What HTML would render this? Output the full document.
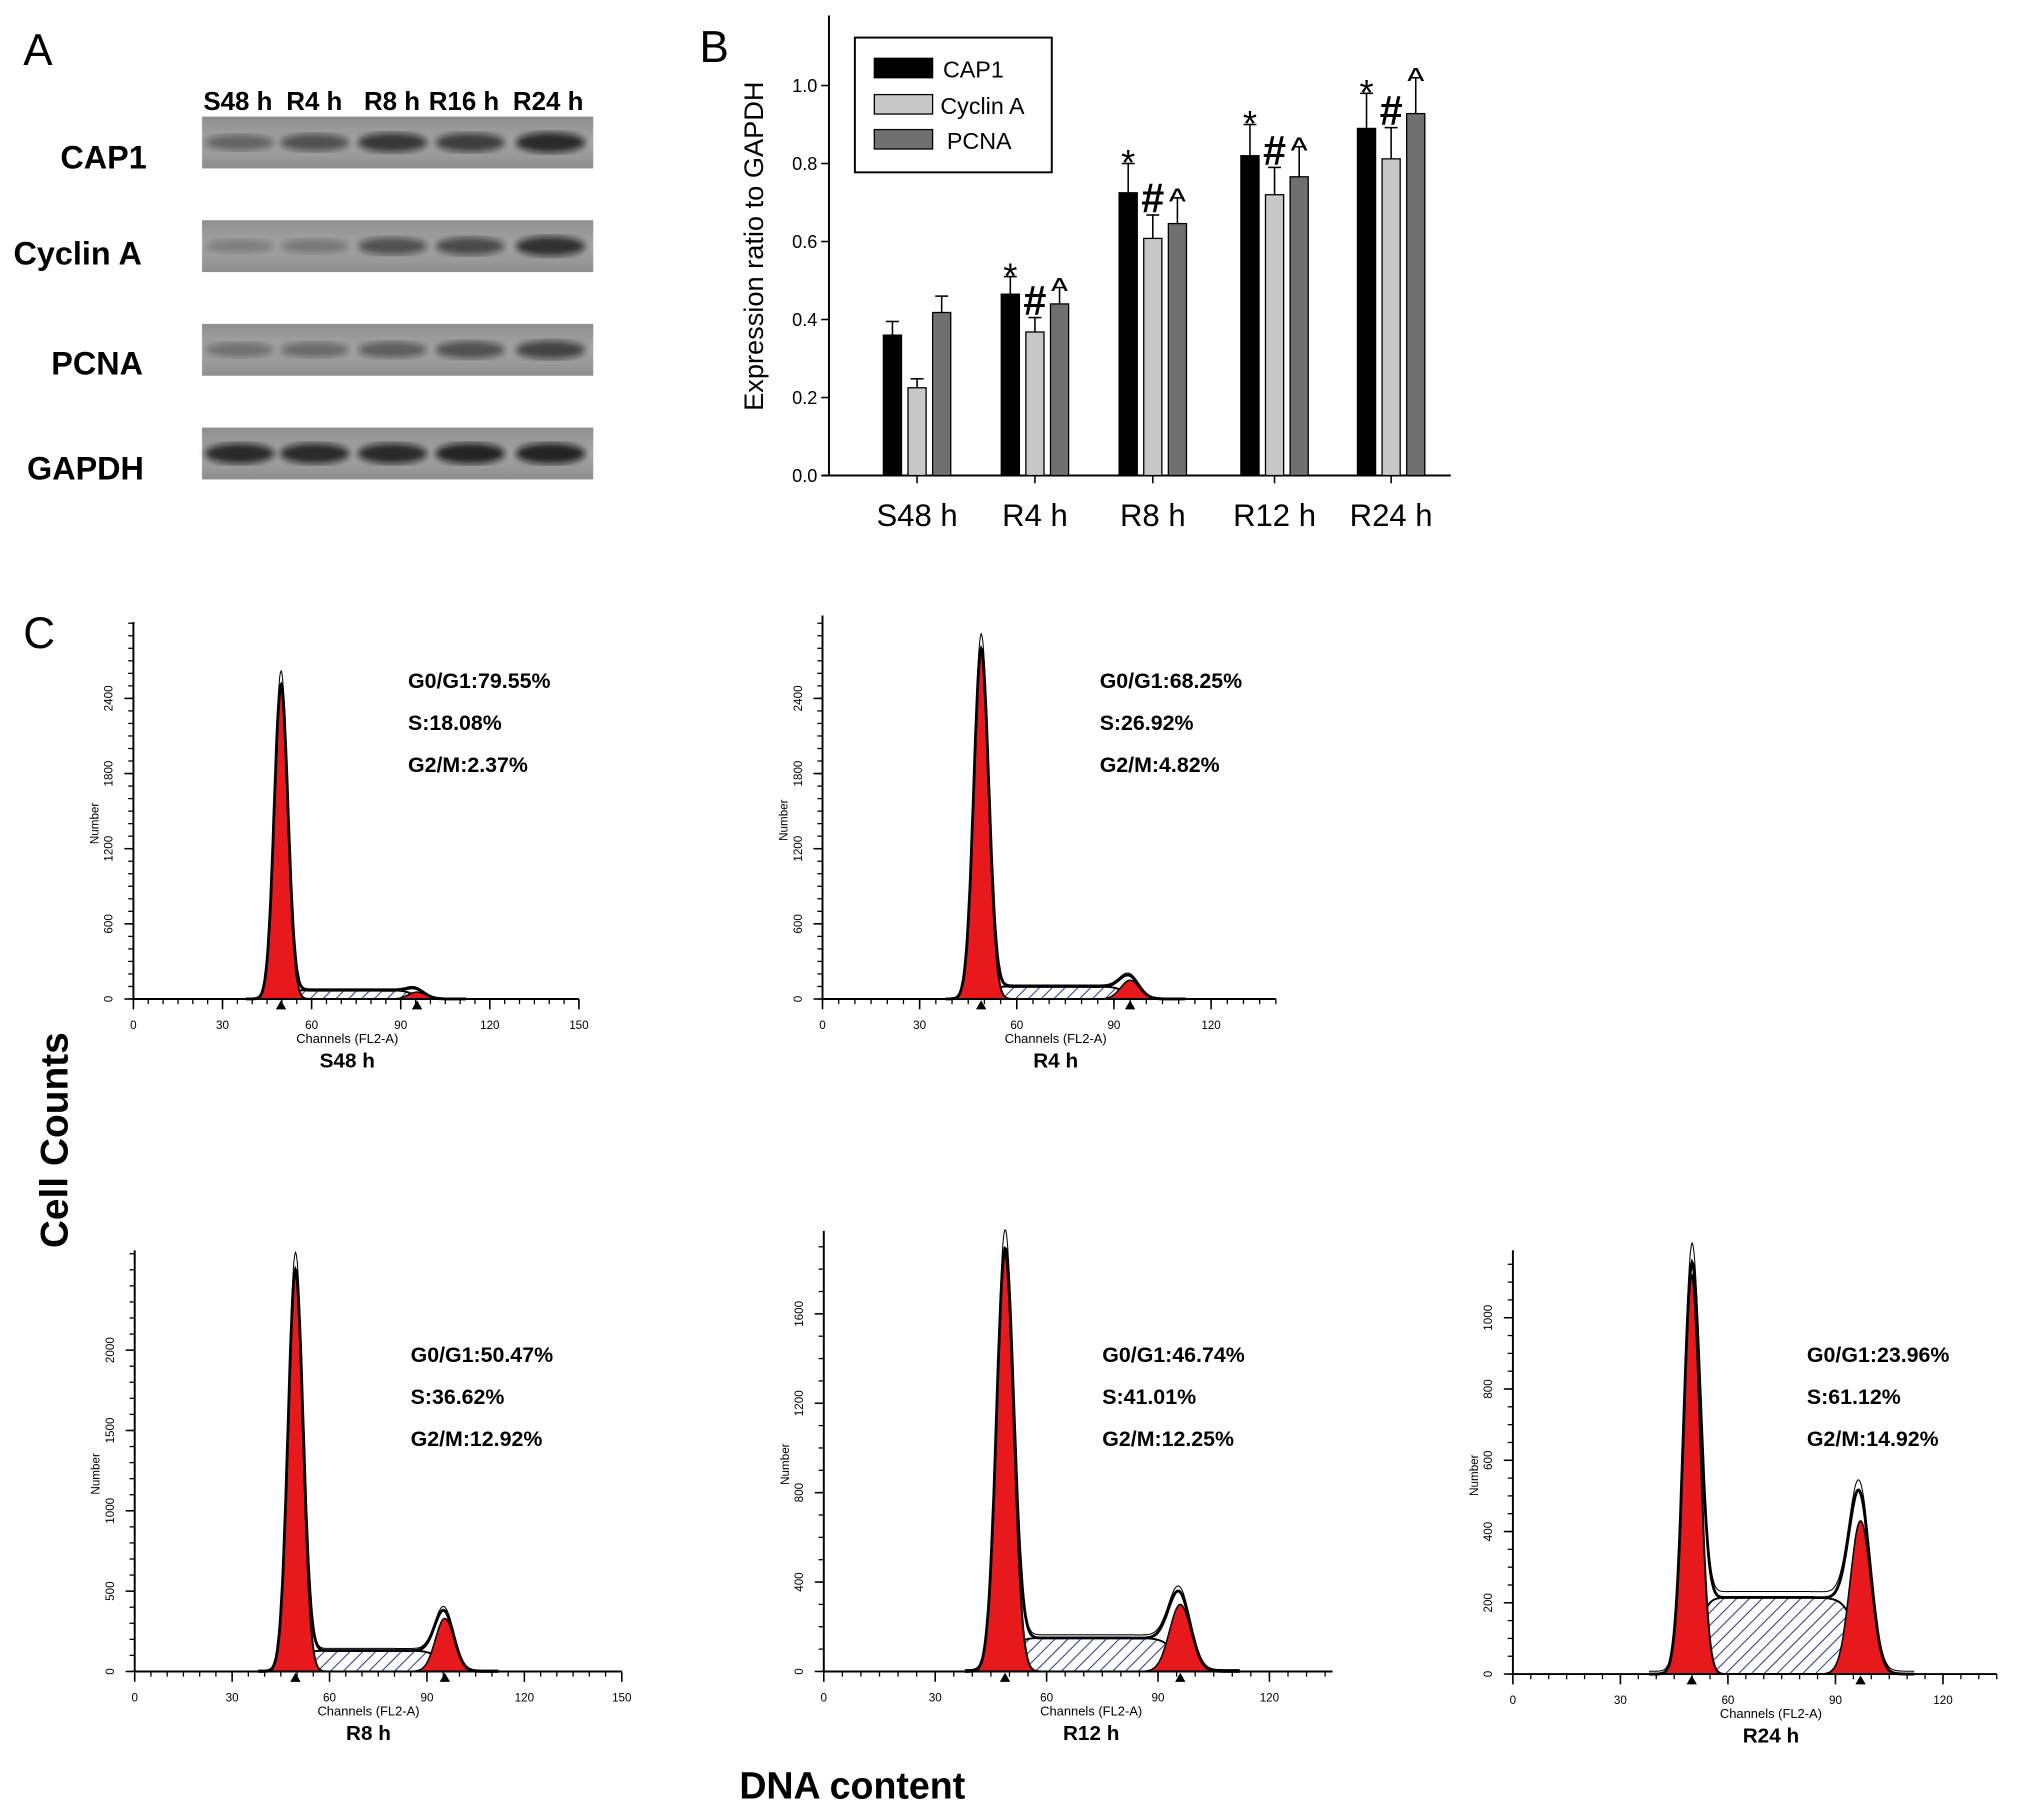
<!DOCTYPE html>
<html><head><meta charset="utf-8"><style>
html,body{margin:0;padding:0;background:#fff}
svg{display:block}
text{font-family:"Liberation Sans",Arial,sans-serif}
</style></head><body>
<svg id="fig" width="2031" height="1814" viewBox="0 0 1568 1400" preserveAspectRatio="none" xmlns="http://www.w3.org/2000/svg">
<defs>
<pattern id="hatch" patternUnits="userSpaceOnUse" width="7" height="7" patternTransform="rotate(45)">
<rect width="7" height="7" fill="#fff"/><line x1="0" y1="0" x2="0" y2="7" stroke="#2b3a8c" stroke-width="1.6"/>
</pattern>
<filter id="blur2"><feGaussianBlur stdDeviation="2.5"/></filter>
<linearGradient id="blotbg" x1="0" y1="0" x2="0" y2="1"><stop offset="0" stop-color="#8e8e8e"/><stop offset="0.5" stop-color="#a6a6a6"/><stop offset="1" stop-color="#8e8e8e"/></linearGradient>
</defs>
<g id="panelA">
<text x="18" y="50" font-size="34">A</text>
<g font-size="20" font-weight="bold">
<text x="157" y="85">S48 h</text><text x="221" y="85">R4 h</text><text x="281" y="85">R8 h</text><text x="331" y="85">R16 h</text><text x="396" y="85">R24 h</text>
</g>
<g font-size="25" font-weight="bold" text-anchor="middle">
<text x="80" y="130">CAP1</text><text x="60" y="204">Cyclin A</text><text x="75" y="289">PCNA</text><text x="66" y="370">GAPDH</text>
</g>
<g id="blots"></g>
</g>
<g id="panelB">
<text x="540" y="48" font-size="34">B</text>
<text transform="translate(589,190) rotate(-90)" font-size="21" text-anchor="middle">Expression ratio to GAPDH</text>
<g id="barG"></g>
<g>
<rect x="660" y="29" width="152" height="104" fill="#fff" stroke="#000" stroke-width="1.5"/>
<rect x="675" y="45" width="45" height="15" fill="#000" stroke="#000"/><text x="728" y="60" font-size="18">CAP1</text>
<rect x="675" y="73" width="45" height="15" fill="#c8c8c8" stroke="#000"/><text x="726" y="88" font-size="18">Cyclin A</text>
<rect x="675" y="100" width="45" height="15" fill="#707070" stroke="#000"/><text x="731" y="115" font-size="18">PCNA</text>
</g>
</g>
<g id="panelC">
<text x="18" y="500" font-size="34">C</text>
<text transform="translate(52,880) rotate(-90)" font-size="30" font-weight="bold" text-anchor="middle">Cell Counts</text>
<text x="658" y="1388" font-size="29" font-weight="bold" text-anchor="middle">DNA content</text>
<g id="histG"></g>
</g>
</svg>
<script>
// ---------- Panel A blot data ----------
const blotLaneX = [185, 243, 303, 363, 425];
const blotCap1 = [0.5, 0.65, 0.85, 0.8, 0.95];
const blotCyclin = [0.3, 0.35, 0.65, 0.7, 0.9];
const blotPcna = [0.4, 0.45, 0.55, 0.65, 0.75];
const blotGapdh = [0.95, 0.95, 0.95, 1.0, 1.0];

// ---------- Panel B data ----------
const barCategories = ["S48 h", "R4 h", "R8 h", "R12 h", "R24 h"];
const cap1Values = [0.36, 0.465, 0.725, 0.82, 0.89];
const cap1Err = [0.035, 0.045, 0.075, 0.08, 0.09];
const cyclinValues = [0.225, 0.368, 0.608, 0.72, 0.812];
const cyclinErr = [0.023, 0.037, 0.06, 0.07, 0.08];
const pcnaValues = [0.418, 0.44, 0.646, 0.766, 0.928];
const pcnaErr = [0.042, 0.042, 0.066, 0.077, 0.092];
const cap1Marks = ["", "*", "*", "*", "*"];
const cyclinMarks = ["", "#", "#", "#", "#"];
const pcnaMarks = ["", "^", "^", "^", "^"];
const yTickValues = [0.0, 0.2, 0.4, 0.6, 0.8, 1.0];
const yTickLabels = ["0.0", "0.2", "0.4", "0.6", "0.8", "1.0"];

// ---------- Panel C data ----------
const histNames = ["S48 h", "R4 h", "R8 h", "R12 h", "R24 h"];
const g1Pct = ["79.55", "68.25", "50.47", "46.74", "23.96"];
const sPct = ["18.08", "26.92", "36.62", "41.01", "61.12"];
const g2Pct = ["2.37", "4.82", "12.92", "12.25", "14.92"];
const g1Height = [2500, 2780, 2480, 1870, 1120];
const g1Channel = [49.7, 49, 49.5, 48.8, 49.9];
const sLevel = [70, 100, 130, 150, 215];
const g2Height = [55, 150, 330, 300, 430];
const g2Channel = [95.5, 95, 95.5, 96, 97];
const yTicksP1 = [0, 600, 1200, 1800, 2400];
const yTicksP2 = [0, 600, 1200, 1800, 2400];
const yTicksP3 = [0, 500, 1000, 1500, 2000];
const yTicksP4 = [0, 400, 800, 1200, 1600];
const yTicksP5 = [0, 200, 400, 600, 800, 1000];
const xTicksLong = [0, 30, 60, 90, 120, 150];
const xTicksShort = [0, 30, 60, 90, 120];

const NS = "http://www.w3.org/2000/svg";
function mk(tag, attrs, parent) {
  const e = document.createElementNS(NS, tag);
  for (const k in attrs) e.setAttribute(k, attrs[k]);
  parent.appendChild(e);
  return e;
}

// ---- blots ----
const blots = document.getElementById("blots");
const blotRows = [blotCap1, blotCyclin, blotPcna, blotGapdh];
const blotNames = ["cap1", "cyclin-a", "pcna", "gapdh"];
const blotTop = [90, 170, 250, 330];
blotRows.forEach((row, r) => {
  const g = mk("g", {}, blots);
  
  
  mk("rect", {x: 156, y: blotTop[r], width: 302, height: 40, fill: "url(#blotbg)"}, g);
  row.forEach((v, i) => {
    const b = mk("ellipse", {cx: blotLaneX[i], cy: blotTop[r] + 20, rx: 27, ry: 4 + 4 * v, fill: "#111", opacity: v * 0.85, filter: "url(#blur2)"}, g);
    
    
  });
});

// ---- bar chart ----
const barG = document.getElementById("barG");
const bx0 = 640, bx1 = 1120, by0 = 367, byTop = 12;
const groupX = [708, 799, 890, 984, 1074];
function yB(v) { return by0 - v * 301; }
mk("line", {x1: bx0, y1: byTop, x2: bx0, y2: by0, stroke: "#000", "stroke-width": 1.5}, barG);
mk("line", {x1: bx0 - 5, y1: by0, x2: bx1, y2: by0, stroke: "#000", "stroke-width": 1.5}, barG);
yTickValues.forEach((v, i) => {
  mk("line", {x1: bx0 - 6, y1: yB(v), x2: bx0, y2: yB(v), stroke: "#000", "stroke-width": 1.2}, barG);
  const t = mk("text", {x: bx0 - 9, y: yB(v) + 5, "font-size": 14, "text-anchor": "end"}, barG);
  t.textContent = yTickLabels[i];
  
  
});
const series = [
  {vals: cap1Values, err: cap1Err, fill: "#000", off: -19, marks: cap1Marks, name: "cap1"},
  {vals: cyclinValues, err: cyclinErr, fill: "#c8c8c8", off: 0, marks: cyclinMarks, name: "cyclin-a"},
  {vals: pcnaValues, err: pcnaErr, fill: "#707070", off: 19, marks: pcnaMarks, name: "pcna"}
];
barCategories.forEach((c, i) => {
  const cx = groupX[i];
  mk("line", {x1: cx, y1: by0, x2: cx, y2: by0 + 6, stroke: "#000", "stroke-width": 1.2}, barG);
  const t = mk("text", {x: cx, y: 406, "font-size": 24, "text-anchor": "middle"}, barG);
  t.textContent = c;
  
  
  series.forEach(s => {
    const v = s.vals[i], top = v + s.err[i];
    const x = cx + s.off;
    mk("line", {x1: x, y1: yB(top), x2: x, y2: yB(v), stroke: "#000", "stroke-width": 1.2}, barG);
    mk("line", {x1: x - 5, y1: yB(top), x2: x + 5, y2: yB(top), stroke: "#000", "stroke-width": 1.2}, barG);
    const r = mk("rect", {x: x - 7, y: yB(v), width: 14, height: by0 - yB(v), fill: s.fill, stroke: "#000", "stroke-width": 1}, barG);
    
    
    if (s.marks[i]) {
      const mch = s.marks[i];
      const isHash = mch === "#";
      const dy = mch === "*" ? 11 : (isHash ? 0 : 14);
      const m = mk("text", {x: x, y: yB(top) + dy - 2, "font-size": isHash ? 32 : 28, "font-weight": isHash ? "bold" : "normal", "text-anchor": "middle"}, barG);
      m.textContent = mch;
      
      
    }
  });
});

// ---- histograms ----
const histCfg = [
  {x0: 103, kx: 2.293, base: 771, ky: 58 / 600, yt: yTicksP1, ym: 100, xt: xTicksLong, xEnd: 150, top: 480, tx: 315, ty: 525},
  {x0: 635, kx: 2.5, base: 771, ky: 58 / 600, yt: yTicksP2, ym: 100, xt: xTicksShort, xEnd: 140, top: 475, tx: 849, ty: 525},
  {x0: 104, kx: 2.507, base: 1290, ky: 62 / 500, yt: yTicksP3, ym: 100, xt: xTicksLong, xEnd: 150, top: 965, tx: 317, ty: 1045},
  {x0: 636, kx: 2.867, base: 1290, ky: 69 / 400, yt: yTicksP4, ym: 100, xt: xTicksShort, xEnd: 137, top: 950, tx: 851, ty: 1045},
  {x0: 1168, kx: 2.767, base: 1292, ky: 55 / 200, yt: yTicksP5, ym: 50, xt: xTicksShort, xEnd: 135, top: 965, tx: 1395, ty: 1045}
];
const histG = document.getElementById("histG");
function gauss(c, m, s) { return Math.exp(-((c - m) * (c - m)) / (2 * s * s)); }
function sig(z) { return 1 / (1 + Math.exp(-z)); }
histNames.forEach((nm, p) => {
  const C = histCfg[p];
  const X = c => C.x0 + c * C.kx;
  const Y = v => C.base - v * C.ky;
  const g = mk("g", {}, histG);
  
  
  const m1 = g1Channel[p], m2 = g2Channel[p];
  const g1 = c => g1Height[p] * gauss(c, m1, 2.3);
  const g2 = c => g2Height[p] * gauss(c, m2, 2.9);
  const sp = c => sLevel[p] * sig((c - m1 - 2) / 1.2) * sig((m2 - 1 - c) / 1.8);
  const cs = [];
  for (let c = 38; c <= 112; c += 0.25) cs.push(c);
  const pathFor = f => "M" + cs.map(c => X(c).toFixed(1) + "," + Y(f(c)).toFixed(1)).join("L");
  const areaFor = f => pathFor(f) + "L" + X(cs[cs.length - 1]) + "," + C.base + "L" + X(cs[0]) + "," + C.base + "Z";
  const sa = mk("path", {d: areaFor(sp), fill: "url(#hatch)", stroke: "#000", "stroke-width": 1.5}, g);
  
  
  const a1 = mk("path", {d: areaFor(g1), fill: "#e8191c", stroke: "#000", "stroke-width": 1.5}, g);
  
  
  const a2 = mk("path", {d: areaFor(g2), fill: "#e8191c", stroke: "#000", "stroke-width": 1.2}, g);
  
  
  const tot = c => g1(c) + g2(c) + sp(c);
  const env = mk("path", {d: pathFor(tot), fill: "none", stroke: "#000", "stroke-width": 2.2}, g);
  
  
  const raw = mk("path", {d: pathFor(c => tot(c) * 1.04 + 8), fill: "none", stroke: "#000", "stroke-width": 0.8}, g);
  
  
  mk("line", {x1: C.x0, y1: C.top, x2: C.x0, y2: C.base, stroke: "#000", "stroke-width": 1.5}, g);
  mk("line", {x1: C.x0, y1: C.base, x2: X(C.xEnd), y2: C.base, stroke: "#000", "stroke-width": 1.5}, g);
  const yMax = (C.base - C.top) / C.ky;
  for (let v = 0; v <= yMax; v += C.ym) mk("line", {x1: C.x0 - 4, y1: Y(v), x2: C.x0, y2: Y(v), stroke: "#000", "stroke-width": 1}, g);
  C.yt.forEach(v => {
    mk("line", {x1: C.x0 - 7, y1: Y(v), x2: C.x0, y2: Y(v), stroke: "#000", "stroke-width": 1.2}, g);
    const t = mk("text", {transform: `translate(${C.x0 - 16},${Y(v)}) rotate(-90)`, "font-size": 9, "text-anchor": "middle"}, g);
    t.textContent = v;
    
    
  });
  for (let c = 0; c <= C.xEnd; c += 5) mk("line", {x1: X(c), y1: C.base, x2: X(c), y2: C.base + 4, stroke: "#000", "stroke-width": 1}, g);
  C.xt.forEach(c => {
    mk("line", {x1: X(c), y1: C.base, x2: X(c), y2: C.base + 8, stroke: "#000", "stroke-width": 1.2}, g);
    const t = mk("text", {x: X(c), y: C.base + 23, "font-size": 9, "text-anchor": "middle"}, g);
    t.textContent = c;
    
    
  });
  [m1, m2].forEach(c => mk("path", {d: `M${X(c) - 4},${C.base + 8}L${X(c) + 4},${C.base + 8}L${X(c)},${C.base + 1}Z`, fill: "#000"}, g));
  const yl = mk("text", {transform: `translate(${C.x0 - 27},${(C.top + C.base) / 2 + 10}) rotate(-90)`, "font-size": 9, "text-anchor": "middle"}, g);
  yl.textContent = "Number";
  
  
  const midX = X(72);
  const xl = mk("text", {x: midX, y: C.base + 34, "font-size": 10, "text-anchor": "middle"}, g);
  xl.textContent = "Channels (FL2-A)";
  
  
  const nt = mk("text", {x: midX, y: C.base + 53, "font-size": 16, "font-weight": "bold", "text-anchor": "middle"}, g);
  nt.textContent = nm;
  
  
  const lines = ["G0/G1:" + g1Pct[p] + "%", "S:" + sPct[p] + "%", "G2/M:" + g2Pct[p] + "%"];
  lines.forEach((s, k) => {
    const t = mk("text", {x: C.tx, y: C.ty + 6 + k * 32.5, "font-size": 16.5, "font-weight": "bold"}, g);
    t.textContent = s;
    
    
  });
});
</script>
</body></html>
